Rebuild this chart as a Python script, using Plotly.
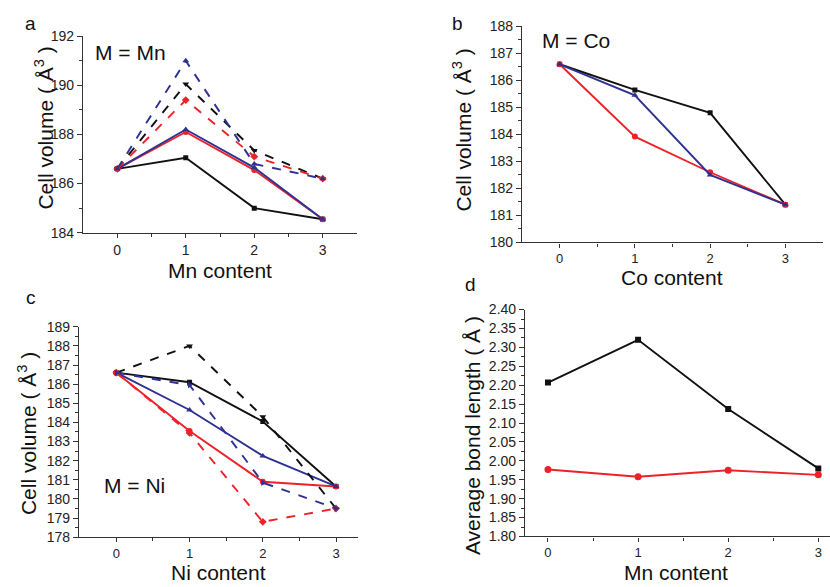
import plotly.graph_objects as go

x_content = [0, 1, 2, 3]

# Panel a: M = Mn
a_black_solid = [186.6, 187.05, 185.0, 184.55]
a_red_solid = [186.6, 188.1, 186.55, 184.55]
a_blue_solid = [186.6, 188.2, 186.65, 184.55]
a_black_dash = [186.6, 190.05, 187.35, 186.2]
a_red_dash = [186.6, 189.4, 187.1, 186.2]
a_blue_dash = [186.6, 191.0, 186.8, 186.2]

# Panel b: M = Co
b_black = [186.6, 185.65, 184.8, 181.4]
b_red = [186.6, 183.92, 182.6, 181.4]
b_blue = [186.6, 185.45, 182.5, 181.4]

# Panel c: M = Ni
c_black_solid = [186.6, 186.1, 184.05, 180.65]
c_red_solid = [186.6, 183.55, 180.9, 180.65]
c_blue_solid = [186.6, 184.65, 182.25, 180.65]
c_black_dash = [186.6, 188.0, 184.3, 179.5]
c_red_dash = [186.6, 183.45, 178.8, 179.5]
c_blue_dash = [186.6, 185.95, 180.85, 179.5]

# Panel d: average bond length
d_black = [2.207, 2.32, 2.137, 1.98]
d_red = [1.977, 1.958, 1.975, 1.963]

BLACK = "#111111"
RED = "#ee2129"
BLUE = "#2e3192"
FONT = "Liberation Sans, Arial, sans-serif"

W, H = 830, 587

def px_x(p):
    return p / W

def px_y(p):
    return 1 - p / H

fig = go.Figure()

def add(xa, ya, y, color, dash, symbol, size=6):
    fig.add_trace(go.Scatter(
        x=x_content, y=y, xaxis=xa, yaxis=ya, mode="lines+markers",
        line=dict(color=color, width=1.9, dash=dash),
        marker=dict(color=color, symbol=symbol, size=size),
        showlegend=False, hoverinfo="skip"))

# panel a
add("x", "y", a_black_solid, BLACK, "solid", "square", 5)
add("x", "y", a_red_solid, RED, "solid", "circle", 6)
add("x", "y", a_blue_solid, BLUE, "solid", "triangle-up", 6)
add("x", "y", a_black_dash, BLACK, "dash", "triangle-down", 6)
add("x", "y", a_red_dash, RED, "dash", "diamond", 6)
add("x", "y", a_blue_dash, BLUE, "dash", "triangle-up", 6)
# panel b
add("x2", "y2", b_black, BLACK, "solid", "square", 5)
add("x2", "y2", b_red, RED, "solid", "circle", 6)
add("x2", "y2", b_blue, BLUE, "solid", "triangle-up", 6)
# panel c
add("x3", "y3", c_black_solid, BLACK, "solid", "square", 5)
add("x3", "y3", c_red_solid, RED, "solid", "circle", 6)
add("x3", "y3", c_blue_solid, BLUE, "solid", "triangle-up", 6)
add("x3", "y3", c_black_dash, BLACK, "dash", "triangle-down", 6)
add("x3", "y3", c_red_dash, RED, "dash", "diamond", 6)
add("x3", "y3", c_blue_dash, BLUE, "dash", "triangle-right", 6)
# panel d
add("x4", "y4", d_black, BLACK, "solid", "square", 6)
add("x4", "y4", d_red, RED, "solid", "circle", 7)

def xaxis(domain, rng, anchor, size):
    minor_vals = [v for v in [0.5, 1.5, 2.5, 3.5] if v < rng[1]]
    return dict(domain=domain, range=rng, anchor=anchor, showgrid=False, zeroline=False,
                showline=True, linecolor="#333", linewidth=1.2, ticks="outside", ticklen=4,
                tickcolor="#333", tickvals=[0, 1, 2, 3], ticktext=["0", "1", "2", "3"],
                tickfont=dict(family=FONT, size=size, color="#222"),
                minor=dict(ticks="outside", ticklen=3, tickvals=minor_vals, tickcolor="#333"),
                fixedrange=True)

def yaxis(domain, rng, anchor, dtick, minor_dtick, fmt, size):
    return dict(domain=domain, range=rng, anchor=anchor, showgrid=False, zeroline=False,
                showline=True, linecolor="#333", linewidth=1.2, ticks="outside", ticklen=5,
                tickcolor="#333", dtick=dtick, tick0=rng[0], tickformat=fmt,
                tickfont=dict(family=FONT, size=size, color="#222"),
                minor=dict(ticks="outside", ticklen=3, dtick=minor_dtick, tick0=rng[0], tickcolor="#333"),
                fixedrange=True)

fig.update_layout(
    width=W, height=H, margin=dict(l=0, r=0, t=0, b=0),
    paper_bgcolor="white", plot_bgcolor="white",
    font=dict(family=FONT, color="#222"),
    xaxis=xaxis([px_x(83), px_x(357)], [-0.5, 3.5], "y", 14),
    yaxis=yaxis([px_y(231), px_y(29)], [184, 192], "x", 2, 1, "d", 14),
    xaxis2=xaxis([px_x(522), px_x(823)], [-0.5, 3.5], "y2", 13),
    yaxis2=yaxis([px_y(241), px_y(19)], [180, 188], "x2", 1, 0.5, "d", 14),
    xaxis3=xaxis([px_x(79), px_x(358)], [-0.51, 3.3], "y3", 13),
    yaxis3=yaxis([px_y(544), px_y(327.7)], [178, 189], "x3", 1, 0.5, "d", 14),
    xaxis4=xaxis([px_x(525), 1.0], [-0.255, 3.13], "y4", 13),
    yaxis4=yaxis([px_y(543.3), px_y(310)], [1.80, 2.40], "x4", 0.05, 0.025, ".2f", 14),
)

annotations = []

def text(x, y, s, size, angle=0):
    annotations.append(dict(x=px_x(x), y=px_y(y), xref="paper", yref="paper", text=s,
                            showarrow=False, textangle=angle, xanchor="center", yanchor="middle",
                            font=dict(family=FONT, size=size, color="#111")))

# panel letters
text(30, 16, "a", 19)
text(457, 16, "b", 19)
text(31, 298, "c", 19)
text(470, 284, "d", 19)
# M labels
text(130, 46, "M = Mn", 21)
text(576, 33, "M = Co", 21)
text(134, 491, "M = Ni", 21)
# x titles
text(220, 270, "Mn content", 21)
text(672, 277, "Co content", 21)
text(218, 580, "Ni content", 21)
text(676, 580, "Mn content", 21)
# y titles
text(44, 124, "Cell volume ( Å<sup>3</sup> )", 21, -90)
text(462, 126, "Cell volume ( Å<sup>3</sup> )", 21, -90)
text(27, 438, "Cell volume ( Å<sup>3</sup> )", 21, -90)
text(472, 440, "Average bond length ( Å )", 21, -90)

fig.update_layout(annotations=annotations)

fig.write_html("out.html")
